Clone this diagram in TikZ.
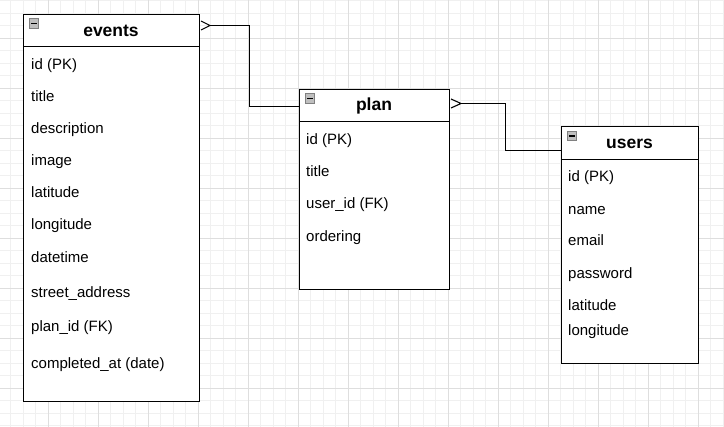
\documentclass[tikz,border=0pt]{standalone}
\usepackage{fontspec}
\setmainfont{Liberation Sans}
\begin{document}
\begin{tikzpicture}[x=1pt,y=-1pt,
  minorgrid/.style={draw=black!6,line width=0.8pt},
  majorgrid/.style={draw=black!13,line width=0.9pt},
  box/.style={draw=black,line width=1.15pt,fill=white,rectangle,inner sep=0pt,anchor=north west},
  field/.style={anchor=base west,inner sep=0pt,font=\fontsize{15}{18}\selectfont},
  tabletitle/.style={anchor=base,inner sep=0pt,font=\fontsize{17.5}{20}\selectfont\bfseries},
  conn/.style={draw=black,line width=1.1pt},
  icon/.style={rectangle,draw=black!50,fill=black!25,line width=0.8pt,minimum size=9.5pt,inner sep=0pt,
    path picture={\draw[black,line width=1.3pt] ([xshift=1.8pt]path picture bounding box.west) -- ([xshift=-1.8pt]path picture bounding box.east);}}]
\useasboundingbox (0,0) rectangle (724,427);
\fill[white] (0,0) rectangle (724,427);
% grid
\foreach \i in {0,...,57} \draw[minorgrid] ({10.8+12.5*\i},0) -- ({10.8+12.5*\i},427);
\foreach \i in {0,...,34} \draw[minorgrid] (0,{0.8+12.5*\i}) -- (724,{0.8+12.5*\i});
\foreach \i in {0,...,14} \draw[majorgrid] ({48.3+50*(\i-1)},0) -- ({48.3+50*(\i-1)},427);
\foreach \i in {0,...,9} \draw[majorgrid] (0,{38.3+50*(\i-1)}) -- (724,{38.3+50*(\i-1)});

% events table
\node[box,minimum width=176pt,minimum height=387pt] (events) at (23,14) {};
\node[box,minimum width=176pt,minimum height=32pt] (evhead) at (23,14) {};
\node[icon] (evicon) at (34,23.5) {};
\node[tabletitle] (evtitle) at (111,37) {events};
\node[field] (ev1) at (31,70) {id (PK)};
\node[field] (ev2) at (31,102) {title};
\node[field] (ev3) at (31,134) {description};
\node[field] (ev4) at (31,165.5) {image};
\node[field] (ev5) at (31,197.5) {latitude};
\node[field] (ev6) at (31,229.5) {longitude};
\node[field] (ev7) at (31,262.5) {datetime};
\node[field] (ev8) at (31,298) {street\_address};
\node[field] (ev9) at (31,331.5) {plan\_id (FK)};
\node[field] (ev10) at (31,369) {completed\_at (date)};

% plan table
\node[box,minimum width=150pt,minimum height=200pt] (plan) at (299,89) {};
\node[box,minimum width=150pt,minimum height=32pt] (plhead) at (299,89) {};
\node[icon] (plicon) at (310,98.5) {};
\node[tabletitle] (pltitle) at (374,111) {plan};
\node[field] (pl1) at (306,145) {id (PK)};
\node[field] (pl2) at (306,176.5) {title};
\node[field] (pl3) at (306,209) {user\_id (FK)};
\node[field] (pl4) at (306,242) {ordering};

% users table
\node[box,minimum width=137pt,minimum height=237pt] (users) at (561,126) {};
\node[box,minimum width=137pt,minimum height=33pt] (ushead) at (561,126) {};
\node[icon] (usicon) at (572,136) {};
\node[tabletitle] (ustitle) at (629.5,148.5) {users};
\node[field] (us1) at (568,182) {id (PK)};
\node[field] (us2) at (568,214.5) {name};
\node[field] (us3) at (568,245.5) {email};
\node[field] (us4) at (568,278.5) {password};
\node[field] (us5) at (568,310.5) {latitude};
\node[field] (us6) at (568,335.5) {longitude};

% connectors
\coordinate (e1) at (210,25.5);
\coordinate (p1) at (299.6,106.5);
\draw[conn] (201,21) -- (e1) -- (201,30);
\draw[conn] (e1) -- (249.5,25.5) |- (p1);
\coordinate (p2) at (461,103.5);
\coordinate (u1) at (561.6,150.5);
\draw[conn] (451,99) -- (p2) -- (451,108);
\draw[conn] (p2) -- (505.5,103.5) |- (u1);
\end{tikzpicture}
\end{document}
